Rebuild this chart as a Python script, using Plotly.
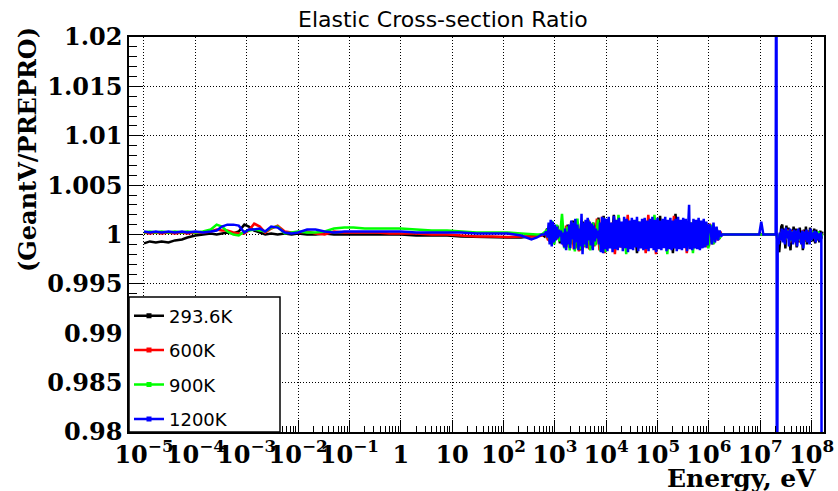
import numpy as np
import plotly.graph_objects as go

# ---------------- data ----------------
SERIES_NAMES = ["293.6K", "600K", "900K", "1200K"]
SERIES_COLORS = ["#000000", "#ff0000", "#00ff00", "#0000ff"]

# low-energy smooth part (shared energies, eV)
LOW_E = [1e-5, 1.3e-5, 1.7e-5, 2.2e-5, 3e-5, 4e-5, 5.5e-5, 7e-5, 1e-4, 1.4e-4,
         2e-4, 2.6e-4, 3.3e-4, 4.2e-4, 5.5e-4, 7e-4, 9e-4, 1.1e-3, 1.4e-3, 1.8e-3,
         2.3e-3, 3e-3, 4e-3, 5.5e-3, 7.5e-3, 1e-2, 1.5e-2, 2.2e-2, 3.3e-2, 5e-2,
         8e-2, 0.12, 0.2, 0.35, 0.6, 1, 2, 4, 8, 15, 30, 60, 120, 220, 350, 450, 560]

LOW_BLACK = [0.9991, 0.9993, 0.9992, 0.9993, 0.9992, 0.9994, 0.9995, 0.9997, 0.9999, 1.0000,
             1.0001, 1.0000, 1.0001, 1.0002, 1.0001, 1.0003, 1.0010, 1.0008, 1.0004, 1.0002,
             1.0000, 1.0001, 1.0000, 1.0001, 1.0000, 1.0001, 1.0000, 1.0000, 1.0001, 1.0000,
             1.0000, 1.0000, 1.0000, 1.0000, 1.0000, 1.0000, 0.9999, 0.9999, 0.9999, 0.9998,
             0.99975, 0.99975, 0.9997, 0.9997, 0.9998, 0.9999, 1.0000]
LOW_RED = [1.0002, 1.0001, 1.0002, 1.0001, 1.0002, 1.0001, 1.0002, 1.0001, 1.0002, 1.0002,
           1.0003, 1.0005, 1.0004, 1.0004, 1.0002, 1.0001, 1.0001, 1.0004, 1.0011, 1.0008,
           1.0002, 1.0006, 1.0009, 1.0003, 1.0002, 1.0002, 1.0003, 1.0001, 1.0000, 1.0003,
           1.0002, 1.0002, 1.0002, 1.0002, 1.0001, 1.0001, 1.0001, 1.0000, 1.0000, 0.9999,
           0.9998, 0.9998, 0.99975, 0.9998, 0.9998, 0.9998, 0.9999]
LOW_GREEN = [1.0002, 1.0003, 1.0002, 1.0003, 1.0002, 1.0003, 1.0002, 1.0003, 1.0002, 1.0003,
             1.0005, 1.0010, 1.0008, 1.0003, 1.0000, 0.9999, 1.0003, 1.0004, 1.0005, 1.0004,
             1.0003, 1.0007, 1.0008, 1.0001, 1.0002, 1.0003, 1.0002, 1.0002, 1.0003, 1.0006,
             1.0007, 1.0007, 1.0006, 1.0006, 1.0006, 1.0006, 1.0005, 1.0004, 1.0004, 1.0003,
             1.0002, 1.0002, 1.0002, 1.0001, 1.0000, 1.0000, 1.0000]
LOW_BLUE = [1.0003, 1.0002, 1.0003, 1.0002, 1.0003, 1.0002, 1.0003, 1.0002, 1.0003, 1.0002,
            1.0003, 1.0004, 1.0008, 1.0010, 1.0010, 1.0009, 1.0002, 1.0005, 1.0005, 1.0006,
            1.0003, 1.0008, 1.0007, 1.0002, 1.0001, 1.0002, 1.0005, 1.0005, 1.0003, 1.0002,
            1.0003, 1.0003, 1.0003, 1.0003, 1.0003, 1.0003, 1.0002, 1.0002, 1.0002, 1.0002,
            1.0001, 1.0001, 1.0001, 0.9999, 0.9995, 0.9997, 1.0000]

# resonance region (log10 of energy in eV, ratio)
MID_BLACK_LOGE = [2.80, 2.85, 2.90, 2.95, 3.00, 3.05, 3.10, 3.15, 3.20, 3.25, 3.30, 3.35, 3.40, 3.45,
                  3.50, 3.55, 3.60, 3.65, 3.70, 3.75, 3.80, 3.85, 3.90, 3.95, 4.00, 4.05, 4.10, 4.15,
                  4.20, 4.25, 4.30, 4.35, 4.40, 4.45, 4.50, 4.55, 4.60, 4.65, 4.70, 4.75, 4.80, 4.85,
                  4.90, 4.95, 5.00, 5.05, 5.10, 5.15, 5.20, 5.25, 5.30, 5.35, 5.40, 5.45, 5.50, 5.55,
                  5.60, 5.65, 5.70, 5.75, 5.80, 5.85, 5.90, 5.95, 6.00, 6.05, 6.10, 6.15, 6.20, 6.25,
                  6.30, 7.30]
MID_BLACK = [0.9998, 1.0006, 0.9993, 1.0012, 0.9996, 1.0009, 0.9991, 1.0006, 0.9988, 1.0010, 0.9990, 1.0014, 0.9986, 1.0011,
             0.9984, 1.0013, 0.9988, 1.0015, 0.9986, 1.0012, 0.9990, 1.0017, 0.9983, 1.0019,
             0.9988, 1.0013, 0.9987, 1.0020, 0.9988, 1.0012, 0.9987, 1.0013, 0.9988, 1.0012, 0.9987, 1.0014,
             0.9981, 1.0012, 0.9988, 1.0013, 0.9987, 1.0012, 0.9988, 1.0013, 0.9987, 1.0019, 0.9988, 1.0012,
             0.9987, 1.0013, 0.9981, 1.0021, 0.9988, 1.0012, 0.9987, 1.0013, 0.9988, 1.0012, 0.9987, 1.0013,
             0.9988, 1.0012, 0.9988, 1.0011,
             0.9988, 1.0009, 0.9991, 1.0006, 0.9996, 1.0000, 1.0000, 1.0000]

MID_RED_LOGE = [2.82, 2.87, 2.92, 2.97, 3.02, 3.07, 3.12, 3.17, 3.22, 3.27, 3.32, 3.37, 3.42, 3.47,
                3.52, 3.57, 3.62, 3.67, 3.72, 3.77, 3.82, 3.87, 3.92, 3.97, 4.02, 4.07, 4.12, 4.17,
                4.22, 4.27, 4.32, 4.37, 4.42, 4.47, 4.52, 4.57, 4.62, 4.67, 4.72, 4.77, 4.82, 4.87,
                4.92, 4.97, 5.02, 5.07, 5.12, 5.17, 5.22, 5.27, 5.32, 5.37, 5.42, 5.47, 5.52, 5.57,
                5.62, 5.67, 5.72, 5.77, 5.82, 5.87, 5.92, 5.97, 6.02, 6.07, 6.12, 6.17, 6.22, 6.25,
                6.30, 7.30]
MID_RED = [1.0002, 0.9994, 1.0010, 0.9992, 1.0008, 0.9995, 1.0005, 0.9989, 1.0009, 0.9987, 1.0013, 0.9985, 1.0010, 0.9983,
           1.0012, 0.9987, 1.0014, 0.9985, 1.0011, 0.9988, 1.0016, 0.9984, 1.0018, 0.9981,
           1.0013, 0.9988, 1.0012, 0.9980, 1.0013, 0.9987, 1.0012, 0.9988, 1.0020, 0.9987, 1.0012, 0.9988,
           1.0013, 0.9987, 1.0012, 0.9981, 1.0020, 0.9988, 1.0012, 0.9980, 1.0013, 0.9987, 1.0012, 0.9988,
           1.0013, 0.9987, 1.0019, 0.9988, 1.0012, 0.9987, 1.0013, 0.9981, 1.0012, 0.9988, 1.0013, 0.9987,
           1.0012, 0.9988, 1.0012,
           0.9987, 1.0011, 0.9990, 1.0007, 0.9994, 1.0003, 1.0000, 1.0000, 1.0000]

MID_GREEN_LOGE = [2.84, 2.89, 2.94, 2.99, 3.04, 3.09, 3.14, 3.19, 3.24, 3.29, 3.34, 3.39, 3.44, 3.49,
                  3.54, 3.59, 3.64, 3.69, 3.74, 3.79, 3.84, 3.89, 3.94, 3.99, 4.04, 4.09, 4.14, 4.19,
                  4.24, 4.29, 4.34, 4.39, 4.44, 4.49, 4.54, 4.59, 4.64, 4.69, 4.74, 4.79, 4.84, 4.89,
                  4.94, 4.99, 5.04, 5.09, 5.14, 5.19, 5.24, 5.29, 5.34, 5.39, 5.44, 5.49, 5.54, 5.59,
                  5.64, 5.69, 5.74, 5.79, 5.84, 5.89, 5.94, 5.99, 6.04, 6.09, 6.14, 6.19, 6.25,
                  6.30, 7.30]
MID_GREEN = [1.0004, 0.9995, 1.0014, 0.9990, 1.0010, 0.9993, 1.0021, 0.9986, 1.0008, 0.9984, 1.0012, 0.9983, 1.0016, 0.9985,
             1.0010, 0.9988, 1.0013, 0.9984, 1.0012, 0.9989, 1.0015, 0.9983, 1.0017, 0.9982,
             1.0013, 0.9988, 1.0012, 0.9987, 1.0020, 0.9988, 1.0012, 0.9980, 1.0013, 0.9987, 1.0012, 0.9988,
             1.0013, 0.9987, 1.0012, 0.9988, 1.0013, 0.9987, 1.0020, 0.9988, 1.0012, 0.9987, 1.0013, 0.9980,
             1.0012, 0.9988, 1.0013, 0.9987, 1.0012, 0.9988, 1.0013, 0.9987, 1.0012, 0.9981, 1.0013, 0.9988,
             1.0012, 0.9987, 1.0012,
             0.9986, 1.0010, 0.9990, 1.0006, 0.9995, 1.0000, 1.0000, 1.0000]

MID_BLUE_LOGE = [2.80, 2.83, 2.86, 2.88, 2.90, 2.92, 2.94, 2.96, 2.98, 3.00, 3.02, 3.04, 3.06, 3.08, 3.10,
                 3.12, 3.14, 3.16, 3.18, 3.20, 3.22, 3.24, 3.26, 3.28, 3.30, 3.32, 3.34, 3.36, 3.38, 3.40,
                 3.42, 3.44, 3.46, 3.48, 3.50, 3.52, 3.54, 3.56, 3.58, 3.60, 3.62, 3.64, 3.66, 3.68, 3.70,
                 3.72, 3.74, 3.76, 3.78, 3.80, 3.82, 3.84, 3.86, 3.88, 3.90, 3.92, 3.94, 3.96, 3.98,
                 4.000, 4.025, 4.050, 4.075, 4.100, 4.125, 4.150, 4.175, 4.200, 4.225, 4.250, 4.275,
                 4.300, 4.325, 4.350, 4.375, 4.400, 4.425, 4.450, 4.475, 4.500, 4.525, 4.550, 4.575,
                 4.600, 4.625, 4.650, 4.675, 4.700, 4.725, 4.750, 4.775, 4.800, 4.825, 4.850, 4.875,
                 4.900, 4.925, 4.950, 4.975, 5.000, 5.025, 5.050, 5.075, 5.100, 5.125, 5.150, 5.175,
                 5.200, 5.225, 5.250, 5.275, 5.300, 5.325, 5.350, 5.375, 5.400, 5.425, 5.450, 5.475,
                 5.500, 5.525, 5.550, 5.575, 5.600, 5.615, 5.630, 5.650, 5.675, 5.700, 5.725, 5.750,
                 5.775, 5.800, 5.825, 5.850, 5.875, 5.900, 5.925, 5.950, 5.975, 6.000,
                 6.03, 6.06, 6.09, 6.12, 6.15, 6.18, 6.21, 6.24, 6.26,
                 6.50, 6.98, 7.02, 7.06, 7.30, 7.315, 7.325]
MID_BLUE = [1.0000, 1.0003, 0.9997, 1.0012, 0.9990, 1.0015, 0.9988, 1.0013, 0.9992, 1.0010, 0.9994, 1.0008, 0.9996, 1.0005, 0.9998,
            1.0004, 0.9990, 1.0002, 0.9987, 1.0006, 0.9984, 1.0003, 0.9990, 1.0010, 0.9986, 1.0014, 0.9995, 1.0012, 0.9985, 1.0016,
            0.9992, 1.0010, 0.9984, 1.0006, 0.9988, 1.0021, 0.9980, 1.0012, 0.9990, 1.0015, 0.9986, 1.0017, 0.9994, 1.0013, 0.9989,
            1.0011, 0.9984, 1.0009, 0.9993, 1.0006, 0.9996, 1.0004, 0.9990, 1.0012, 0.9982, 1.0018, 0.9981, 1.0017, 0.9985,
            1.0016, 0.9983, 1.0018, 0.9986, 1.0012, 0.9982, 1.0019, 0.9985, 1.0015, 0.9984, 1.0017, 0.9987,
            1.0013, 0.9983, 1.0018, 0.9986, 1.0016, 0.9982, 1.0014, 0.9985, 1.0017, 0.9984, 1.0015, 0.9987,
            1.0018, 0.9983, 1.0013, 0.9986, 1.0016, 0.9984, 1.0017, 0.9985, 1.0014, 0.9983, 1.0016, 0.9986,
            1.0018, 0.9984, 1.0015, 0.9982, 1.0017, 0.9985, 1.0014, 0.9984, 1.0016, 0.9986, 1.0018, 0.9983,
            1.0015, 0.9985, 1.0017, 0.9984, 1.0014, 0.9986, 1.0016, 0.9983, 1.0018, 0.9985, 1.0015, 0.9984,
            1.0017, 0.9986, 1.0016, 0.9983, 1.0014, 1.0030, 0.9985, 1.0012, 0.9984, 1.0016, 0.9986, 1.0015,
            0.9985, 1.0017, 0.9984, 1.0014, 0.9986, 1.0016, 0.9987, 1.0013, 0.9989, 1.0010,
            1.0008, 0.9990, 1.0012, 0.9992, 1.0008, 0.9994, 1.0004, 0.9998, 1.0000,
            1.0000, 1.0000, 1.0013, 1.0000, 1.0000, 1.0500, 0.9500]

# high-energy part (log10 of energy in eV, ratio)
HIGH_BLACK_LOGE = [7.32, 7.34, 7.37, 7.39, 7.41, 7.43, 7.45, 7.47, 7.49, 7.51, 7.53, 7.55, 7.57, 7.59,
                   7.61, 7.63, 7.65, 7.67, 7.69, 7.71, 7.73, 7.75, 7.77, 7.79, 7.81, 7.83, 7.85, 7.87,
                   7.89, 7.91, 7.93, 7.95, 7.97, 7.99, 8.01, 8.03, 8.05, 8.07, 8.09, 8.11, 8.13, 8.15,
                   8.17, 8.19, 8.21]
HIGH_BLACK = [1.0000, 0.9992, 0.9982, 0.9996, 1.0008, 1.0010, 0.9994, 1.0006, 0.9986, 1.0009, 0.9998, 1.0007, 0.9990, 0.9984,
              1.0005, 0.9995, 1.0008, 0.9993, 1.0006, 0.9987, 1.0004, 0.9992, 1.0007, 0.9996, 1.0002, 0.9984, 1.0005, 0.9993,
              1.0008, 0.9990, 1.0004, 0.9992, 1.0007, 0.9995, 1.0004, 0.9993, 1.0006, 0.9991, 1.0005, 0.9994, 1.0003, 0.9992,
              1.0004, 0.9996, 1.0003]
HIGH_RG_LOGE = [7.33, 7.38, 7.43, 7.48, 7.53, 7.58, 7.63, 7.68, 7.73, 7.78, 7.83, 7.88, 7.93, 7.98,
                8.03, 8.08, 8.13, 8.18, 8.21]
HIGH_RED = [1.0000, 0.9994, 1.0004, 0.9993, 1.0005, 0.9992, 1.0004, 0.9994, 1.0003, 0.9993, 1.0004, 0.9994, 1.0003, 0.9995,
            1.0003, 0.9994, 1.0002, 0.9996, 1.0001]
HIGH_GREEN = [1.0000, 0.9995, 1.0003, 0.9994, 1.0004, 0.9993, 1.0003, 0.9995, 1.0004, 0.9994, 1.0003, 0.9995, 1.0002, 0.9994,
              1.0003, 0.9995, 1.0003, 0.9996, 1.0001]
HIGH_BLUE_LOGE = [7.34, 7.36, 7.38, 7.40, 7.42, 7.44, 7.46, 7.48, 7.50, 7.52, 7.54, 7.56, 7.58, 7.60,
                  7.62, 7.64, 7.66, 7.68, 7.70, 7.72, 7.74, 7.76, 7.78, 7.80, 7.82, 7.84, 7.86, 7.88,
                  7.90, 7.92, 7.94, 7.96, 7.98, 8.00, 8.02, 8.04, 8.06, 8.08, 8.10, 8.12, 8.14, 8.16,
                  8.18, 8.19, 8.20]
HIGH_BLUE = [0.9996, 0.9990, 1.0002, 0.9994, 1.0006, 0.9992, 1.0005, 0.9990, 1.0007, 0.9996, 1.0004, 0.9988, 1.0006, 0.9994,
             1.0003, 0.9990, 1.0005, 0.9992, 1.0004, 0.9988, 1.0006, 0.9995, 1.0002, 0.9990, 1.0004, 0.9986, 1.0003, 0.9994,
             1.0005, 0.9992, 1.0003, 0.9990, 1.0006, 0.9994, 1.0002, 0.9996, 1.0004, 0.9992, 1.0003, 0.9995, 1.0001, 0.9993,
             1.0002, 0.9998, 0.9500]

Y_TICK_VALS = [0.98, 0.985, 0.99, 0.995, 1.0, 1.005, 1.01, 1.015, 1.02]
Y_TICK_LABELS = ["0.98", "0.985", "0.99", "0.995", "1", "1.005", "1.01", "1.015", "1.02"]
X_TICK_VALS = [1e-5, 1e-4, 1e-3, 1e-2, 1e-1, 1, 10, 1e2, 1e3, 1e4, 1e5, 1e6, 1e7, 1e8]
X_TICK_LABELS = ["10<sup>\u22125</sup>", "10<sup>\u22124</sup>", "10<sup>\u22123</sup>", "10<sup>\u22122</sup>",
                 "10<sup>\u22121</sup>", "1", "10", "10<sup>2</sup>", "10<sup>3</sup>", "10<sup>4</sup>",
                 "10<sup>5</sup>", "10<sup>6</sup>", "10<sup>7</sup>", "10<sup>8</sup>"]

# ---------------- assemble ----------------
def build(low_vals, mid_loge, mid_vals, high_loge, high_vals):
    n = min(len(mid_loge), len(mid_vals))
    m = min(len(high_loge), len(high_vals))
    x = list(LOW_E) + list(10.0 ** np.array(mid_loge[:n])) + list(10.0 ** np.array(high_loge[:m]))
    y = list(low_vals) + list(mid_vals[:n]) + list(high_vals[:m])
    return x, y

series = [
    build(LOW_BLACK, MID_BLACK_LOGE, MID_BLACK, HIGH_BLACK_LOGE, HIGH_BLACK),
    build(LOW_RED, MID_RED_LOGE, MID_RED, HIGH_RG_LOGE, HIGH_RED),
    build(LOW_GREEN, MID_GREEN_LOGE, MID_GREEN, HIGH_RG_LOGE, HIGH_GREEN),
    build(LOW_BLUE, MID_BLUE_LOGE, MID_BLUE, HIGH_BLUE_LOGE, HIGH_BLUE),
]

fig = go.Figure()
for (x, y), name, col in zip(series, SERIES_NAMES, SERIES_COLORS):
    fig.add_trace(go.Scatter(x=x, y=y, mode="lines", line=dict(color=col, width=2.5),
                             showlegend=False, hoverinfo="skip"))
for name, col in zip(SERIES_NAMES, SERIES_COLORS):
    fig.add_trace(go.Scatter(x=[None], y=[None], mode="lines+markers", name=name, legendgroup=name,
                             line=dict(color=col, width=2.5),
                             marker=dict(symbol="square", size=5, color=col)))

SERIF = "DejaVu Serif"
W, H = 838, 491
L, R, T, B = 129, 14, 37, 59
PW, PH = W - L - R, H - T - B

def px(xp):
    return (xp - L) / PW

def py(yp):
    return (H - B - yp) / PH

fig.update_layout(
    width=W, height=H,
    margin=dict(l=L, r=R, t=T, b=B, autoexpand=False),
    paper_bgcolor="white", plot_bgcolor="white",
    showlegend=True,
    legend=dict(x=0, y=py(297.5), xanchor="left", yanchor="top", bgcolor="rgba(0,0,0,0)",
                borderwidth=0, font=dict(family="DejaVu Sans", size=18, color="black"),
                tracegroupgap=8, itemwidth=30),
    shapes=[dict(type="rect", xref="paper", yref="paper", x0=0, x1=px(280), y0=0, y1=py(297),
                 line=dict(color="black", width=1.5), fillcolor="white", layer="above")],
    annotations=[
        dict(text="Elastic Cross-section Ratio", xref="paper", yref="paper", x=px(443), y=py(20),
             xanchor="center", yanchor="middle", showarrow=False,
             font=dict(family="DejaVu Sans", size=22, color="black")),
        dict(text="<b>(GeantV/PREPRO)</b>", xref="paper", yref="paper", x=px(27), y=py(150),
             xanchor="center", yanchor="middle", showarrow=False, textangle=-90,
             font=dict(family=SERIF, size=24, color="black")),
        dict(text="<b>Energy, eV</b>", xref="paper", yref="paper", x=px(818), y=py(478),
             xanchor="right", yanchor="middle", showarrow=False,
             font=dict(family=SERIF, size=25, color="black")),
    ],
)

fig.update_xaxes(
    type="log", range=[-5.292, 8.242], automargin=False,
    showline=True, linecolor="black", linewidth=1.5, mirror=True,
    ticks="inside", ticklen=12, tickwidth=1.2, tickcolor="black",
    tickmode="array", tickvals=X_TICK_VALS, ticktext=X_TICK_LABELS, tickangle=0,
    tickfont=dict(family=SERIF, size=24, color="black", weight="bold"),
    showgrid=True, gridcolor="black", gridwidth=1, griddash="1px,2px",
    minor=dict(ticks="inside", ticklen=6, tickwidth=1, tickcolor="black", dtick="D1", showgrid=False),
    zeroline=False,
)
fig.update_yaxes(
    range=[0.98, 1.02], automargin=False,
    showline=True, linecolor="black", linewidth=1.5, mirror=True,
    ticks="inside", ticklen=14, tickwidth=1.2, tickcolor="black",
    tickmode="array", tickvals=Y_TICK_VALS, ticktext=Y_TICK_LABELS,
    tickfont=dict(family=SERIF, size=24, color="black", weight="bold"),
    showgrid=True, gridcolor="black", gridwidth=1, griddash="1px,2px",
    minor=dict(ticks="inside", ticklen=8, tickwidth=1, tickcolor="black", dtick=0.001, showgrid=False),
    zeroline=False,
)

fig.write_html("out.html")
